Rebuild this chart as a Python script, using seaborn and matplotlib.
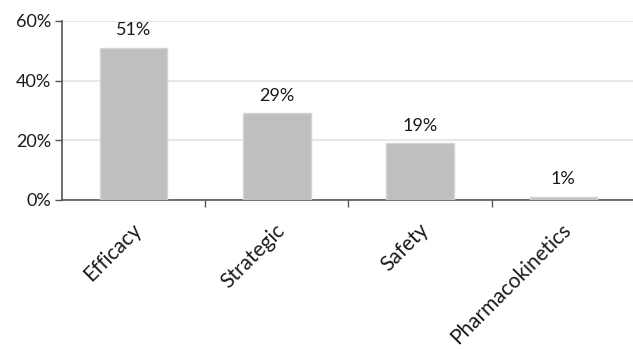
import matplotlib
matplotlib.use("Agg")
import matplotlib.pyplot as plt
import matplotlib.transforms as mtransforms
import seaborn as sns
import pandas as pd
from matplotlib.ticker import FixedLocator, PercentFormatter

categories = ["Efficacy", "Strategic", "Safety", "Pharmacokinetics"]
values = [51, 29, 19, 1]
labels = ["51%", "29%", "19%", "1%"]
y_ticks = [0, 20, 40, 60]

sns.set_theme(style="white")
plt.rcParams['font.family'] = ['Lato', 'DejaVu Sans']

df = pd.DataFrame({"category": categories, "value": values})

fig = plt.figure(figsize=(6.33, 3.49), dpi=100)
ax = fig.add_axes([0.098, 0.427, 0.905, 0.513])

sns.barplot(data=df, x="category", y="value", color="#bfbfbf", width=0.47,
            edgecolor="#d4d4d4", linewidth=1, saturation=1, ax=ax, zorder=3)

ax.set_ylim(0, 60)
ax.set_xlim(-0.5, 3.5)
ax.set_yticks(y_ticks)
ax.yaxis.set_major_formatter(PercentFormatter(decimals=0))
ax.grid(axis="y", color="#e3e3e3", linewidth=1.2, zorder=0)
ax.set_axisbelow(True)

for i, (v, lab) in enumerate(zip(values, labels)):
    ax.text(i, v + 3.2, lab, ha="center", va="bottom", fontsize=13, color="#1a1a1a")

ax.set_xlabel("")
ax.set_ylabel("")
for s in ["top", "right"]:
    ax.spines[s].set_visible(False)
ax.spines["left"].set_color("#555555")
ax.spines["bottom"].set_color("#555555")
ax.spines["left"].set_linewidth(1.2)
ax.spines["bottom"].set_linewidth(1.2)

ax.tick_params(axis="y", which="major", left=True, length=5, width=1, color="#555555",
               labelsize=13, labelcolor="#1a1a1a", pad=3)
ax.tick_params(axis="x", which="major", bottom=True, length=0, labelsize=15,
               labelcolor="#1a1a1a", pad=0)
ax.xaxis.set_minor_locator(FixedLocator([0.5, 1.5, 2.5]))
ax.tick_params(axis="x", which="minor", bottom=True, length=5, width=1, color="#555555")

offset = mtransforms.ScaledTranslation(5 / 100, -27 / 100, fig.dpi_scale_trans)
for t in ax.get_xticklabels():
    t.set_rotation(45)
    t.set_ha("right")
    t.set_va("center")
    t.set_rotation_mode("anchor")
    t.set_transform(t.get_transform() + offset)

fig.savefig("out.png", dpi=100, facecolor="white")
